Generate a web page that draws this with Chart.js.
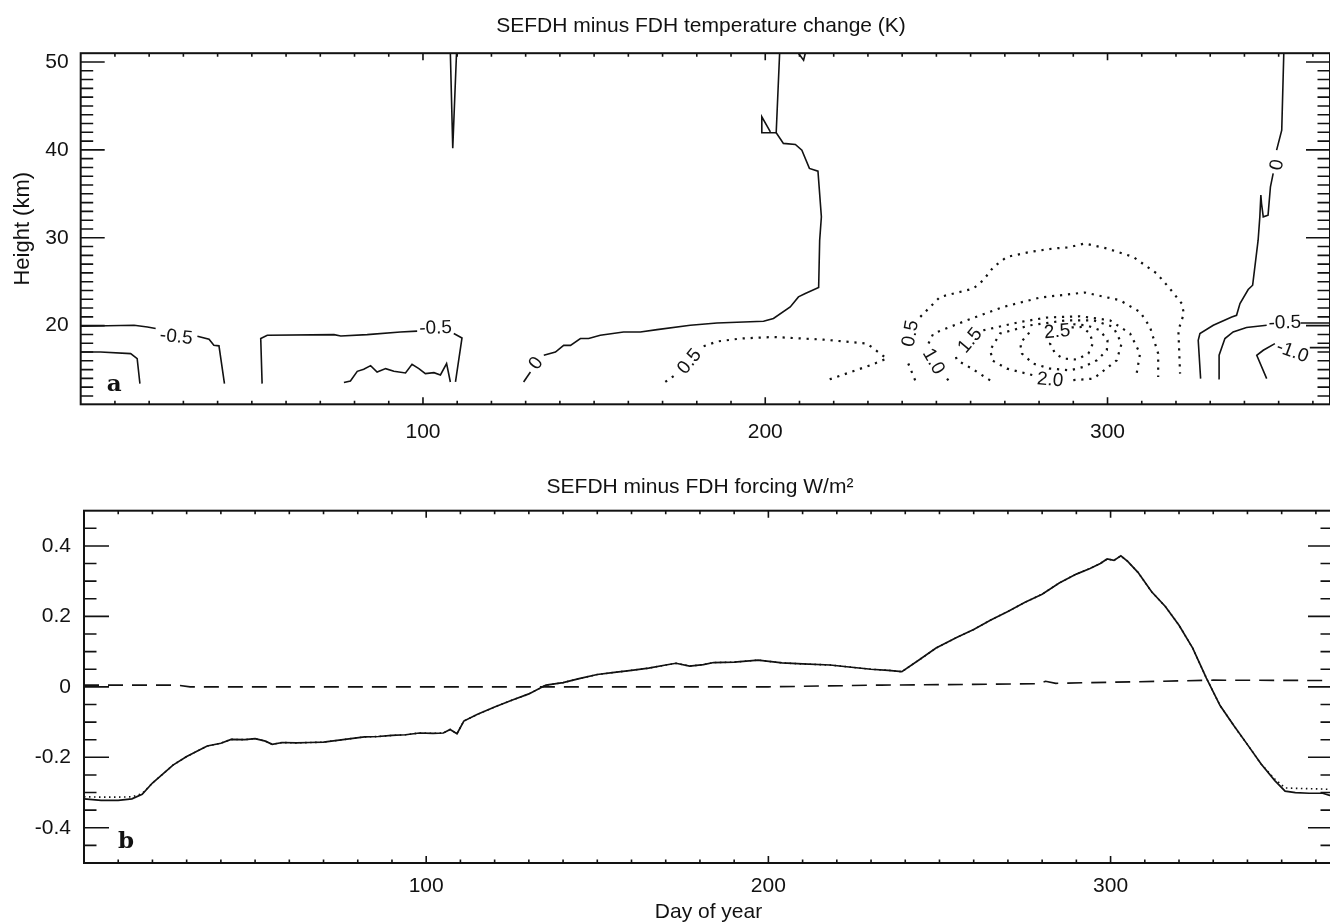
<!DOCTYPE html>
<html>
<head>
<meta charset="utf-8">
<title>SEFDH minus FDH</title>
<script src="https://cdn.jsdelivr.net/npm/chart.js@4.4.0/dist/chart.umd.min.js"></script>
<style>
  html, body { margin: 0; padding: 0; background: #fff; overflow: hidden; }
  #wrap { position: relative; width: 1330px; height: 923px; overflow: hidden; }
  canvas { position: absolute; left: 0; }
  #temperatuur { top: 0; }
  #forcering { top: 460px; }
</style>
</head>
<body>
<div id="wrap">
  <canvas id="temperatuur" width="1330" height="460"></canvas>
  <canvas id="forcering" width="1333" height="463"></canvas>
</div>
<script>
var ink = '#121212';

// tick labels
var dayTicks = [100, 200, 300];
var heightTicks = [20, 30, 40, 50];
var forcingTicks = [-0.4, -0.2, 0, 0.2, 0.4];

// panel a: contour lines as [day, height km], split where a label sits
// solid = zero / negative levels
var minHalfLeftA = [[0, 19.93], [15.6, 20.04], [19.5, 19.85], [21.9, 19.67]];
var minHalfLeftB = [[34.1, 18.79], [37.5, 18.45], [38.9, 17.76], [40.4, 17.7], [42.0, 13.4]];
var minOneLeft = [[0, 17.0], [5.8, 17.0], [14.6, 16.82], [16.5, 16.25], [17.3, 13.4]];
var minHalfMidA = [[53.0, 13.4], [52.6, 18.53], [54.5, 18.9], [74, 18.98], [76, 18.83], [83.7, 18.98], [93.4, 19.28], [98.3, 19.38]];
var minHalfMidB = [[109.0, 19.1], [111.4, 18.6], [109.5, 13.59]];
var squiggle = [[76.9, 13.52], [78.8, 13.7], [80.8, 14.8], [82.7, 15.03], [84.7, 15.45], [86.6, 14.73], [89.1, 15.11], [91.5, 14.8], [94.9, 14.61], [96.8, 15.6], [98.8, 15.11], [100.7, 14.54], [103.2, 14.65], [105.1, 14.39], [106.9, 15.68], [108.0, 13.59]];
var spike = [[108.0, 51], [108.7, 40.2], [109.8, 51]];
var zeroMidA = [[129.4, 13.59], [131.4, 14.73]];
var zeroMidB = [[135.3, 16.63], [138.7, 17.0], [141.1, 17.76], [143.1, 17.76], [146, 18.53], [148.4, 18.53], [151.8, 18.9], [158.6, 19.28], [163.5, 19.28], [168.4, 19.55], [178.1, 20.04], [185.9, 20.3], [199.5, 20.5], [202.4, 20.81], [207.3, 22.13], [209.7, 23.27], [211.7, 23.65], [215.6, 24.33], [215.9, 29.7], [216.4, 32.38], [215.4, 37.58], [212.9, 37.89], [210.7, 39.97], [208.8, 40.62], [205.3, 40.74], [203.2, 41.95], [204.2, 51]];
var zeroLoop = [[203.2, 41.95], [199.0, 41.95], [199.0, 43.77], [201.5, 42.05]];
var zeroTop = [[209.7, 51], [211.2, 50.2], [211.7, 51]];
var zeroRightA = [[351.5, 51], [350.9, 42.25], [349.4, 39.97]];
var zeroRightB = [[348.4, 37.32], [347.6, 35.8], [346.9, 32.57], [345.5, 32.38], [345.0, 33.9], [344.8, 34.85], [344.5, 32.38], [344.0, 29.72], [342.4, 24.6], [341.1, 24.11], [338.7, 22.51], [337.7, 21.18], [336.3, 20.99], [330.9, 20.04], [327.0, 19.1], [326.5, 18.33], [327.2, 13.97]];
var minHalfRightA = [[332.8, 13.97], [332.6, 16.63], [334.3, 18.53], [336.7, 19.28], [340.6, 19.78], [346.5, 20.04]];
var minHalfRightB = [[356.4, 20.3], [365, 20.3]];
var minOneRightA = [[346.5, 13.97], [343.6, 16.63], [345.5, 17.2], [348.9, 17.96]];
var minOneRightB = [[359.1, 17.5], [365, 17.5]];

// dotted = positive levels
var halfLobeA = [[170.8, 13.59], [174.2, 14.54]];
var halfLobeB = [[182, 17.65], [186, 18.2], [192.7, 18.53], [202.4, 18.71], [217, 18.41], [229.7, 17.96], [233.6, 16.82], [235.5, 16.25], [230.7, 15.49], [218, 13.78]];
var halfBigA = [[243.8, 13.78], [241.4, 16.06]];
var halfBigB = [[245.3, 21.0], [251.1, 23.27], [260.8, 24.22], [263.7, 25.17], [266.7, 26.68], [270.6, 27.82], [277.4, 28.39], [284.2, 28.78], [288.5, 28.9], [293.4, 29.35], [299.8, 28.78], [307.5, 27.82], [314.4, 25.93], [318.2, 24.22], [321.7, 22.51], [322.3, 21.37], [320.7, 19.47], [321.2, 14.54]];
var oneA = [[253.5, 13.78], [252.5, 14.3]];
var oneB = [[247.7, 17.96], [249.1, 19.1], [258.9, 20.61], [269.6, 22.13], [280.3, 23.2], [293.4, 23.77], [303.6, 22.89], [309.5, 21.56], [312.4, 19.85], [314.8, 16.82], [314.8, 14.16]];
var oneHalfA = [[265.7, 13.78], [260, 15.2], [256, 16.06], [255.5, 16.7]];
var oneHalfB = [[263.7, 19.47], [274.5, 20.42], [282.2, 20.92], [292, 21.07], [300.7, 20.61], [306.6, 19.1], [309.5, 16.82], [308.5, 14.54]];
var two = [[290.0, 13.8], [295.9, 13.97], [302.7, 16.06], [304.1, 17.96], [301.7, 19.85], [295.9, 20.61], [288.1, 20.61], [277.4, 20.04], [268.6, 19.1], [265.7, 17.2], [266.5, 16.0], [270.6, 15.11], [278.3, 14.35]];
var twoHalf = [[290.0, 20.16], [293.9, 20.04], [297.8, 19.47], [300.0, 18.33], [299.8, 17.2], [296.9, 16.06], [292.9, 15.3], [289.1, 14.92], [283.2, 15.11], [278.3, 15.68], [275.0, 16.82], [274.5, 17.96], [276.5, 19.0], [278.5, 19.5]];
var three = [[289.5, 19.8], [292.5, 19.85], [294.9, 19.1], [295.7, 17.96], [294.4, 16.82], [291.0, 16.14], [287.1, 16.25], [284.7, 16.82], [283.2, 17.96], [283.8, 18.6]];

// contour labels: day, height, text, angle
var contourLabels = [
  [27.9, 18.7, '-0.5', 6],
  [103.7, 19.7, '-0.5', -2],
  [133.1, 15.7, '0', -55],
  [177.9, 15.9, '0.5', -50],
  [242.5, 19.1, '0.5', -80],
  [249.1, 15.9, '1.0', 60],
  [259.9, 18.3, '1.5', -50],
  [285.3, 19.3, '2.5', -5],
  [283.2, 13.8, '2.0', 5],
  [349.6, 38.3, '0', -80],
  [351.8, 20.3, '-0.5', -2],
  [354.0, 17.0, '-1.0', 20]
];

var solidLines = [minHalfLeftA, minHalfLeftB, minOneLeft, minHalfMidA, minHalfMidB, squiggle, spike,
  zeroMidA, zeroMidB, zeroLoop, zeroTop, zeroRightA, zeroRightB, minHalfRightA, minHalfRightB, minOneRightA, minOneRightB];
var dottedLines = [halfLobeA, halfLobeB, halfBigA, halfBigB, oneA, oneB, oneHalfA, oneHalfB, two, twoHalf, three];

// panel b: forcing (W/m2) against day of year
var forcingDays = [0, 5, 10, 14, 17, 20, 23, 26, 30, 33, 36, 40, 43, 47, 50, 53, 55, 58, 62, 66, 70, 74, 78, 82, 86, 90, 94, 98, 102, 105, 107, 109, 111, 115, 120, 125, 130, 135, 140, 145, 150, 155, 160, 165, 170, 173, 177, 181, 184, 190, 197, 204, 210, 218, 225, 230, 235, 239, 244, 249, 255, 260, 265, 270, 275, 280, 285, 290, 294, 297, 299, 301, 303, 305, 308, 312, 316, 320, 324, 328, 332, 336, 340, 344, 348, 351, 354, 358, 362, 364, 365];
var forcingSolid = [-0.318, -0.322, -0.322, -0.318, -0.305, -0.273, -0.248, -0.222, -0.198, -0.183, -0.168, -0.160, -0.149, -0.150, -0.147, -0.154, -0.163, -0.158, -0.159, -0.158, -0.157, -0.152, -0.147, -0.142, -0.141, -0.138, -0.136, -0.131, -0.132, -0.131, -0.121, -0.133, -0.097, -0.078, -0.057, -0.038, -0.020, 0.005, 0.012, 0.024, 0.035, 0.041, 0.047, 0.053, 0.062, 0.067, 0.059, 0.063, 0.069, 0.070, 0.076, 0.068, 0.065, 0.062, 0.055, 0.050, 0.047, 0.043, 0.076, 0.110, 0.140, 0.163, 0.190, 0.214, 0.240, 0.263, 0.295, 0.320, 0.336, 0.350, 0.363, 0.359, 0.372, 0.356, 0.325, 0.270, 0.228, 0.175, 0.110, 0.025, -0.053, -0.110, -0.164, -0.219, -0.266, -0.296, -0.300, -0.302, -0.302, -0.308, -0.305];
var forcingDotted = [-0.312, -0.313, -0.313, -0.312, -0.303, -0.273, -0.248, -0.222, -0.198, -0.183, -0.168, -0.160, -0.149, -0.150, -0.147, -0.154, -0.163, -0.158, -0.159, -0.158, -0.157, -0.152, -0.147, -0.142, -0.141, -0.138, -0.136, -0.131, -0.132, -0.131, -0.121, -0.133, -0.097, -0.078, -0.057, -0.038, -0.020, 0.005, 0.012, 0.024, 0.035, 0.041, 0.047, 0.053, 0.062, 0.067, 0.059, 0.063, 0.069, 0.070, 0.076, 0.068, 0.065, 0.062, 0.055, 0.050, 0.047, 0.043, 0.076, 0.110, 0.140, 0.163, 0.190, 0.214, 0.240, 0.263, 0.295, 0.320, 0.336, 0.350, 0.363, 0.359, 0.372, 0.356, 0.325, 0.270, 0.228, 0.175, 0.110, 0.025, -0.053, -0.110, -0.164, -0.219, -0.262, -0.287, -0.288, -0.289, -0.290, -0.291, -0.292];
var dashDays = [0, 27, 31, 60, 100, 150, 200, 233, 260, 279, 281, 284, 300, 330, 365];
var dashValues = [0.005, 0.005, 0.0, 0.0, 0.0, 0.0, 0.0, 0.005, 0.007, 0.009, 0.016, 0.010, 0.013, 0.019, 0.018];

Chart.defaults.font.family = "'Liberation Sans', Arial, sans-serif";
Chart.defaults.color = ink;

function toPoints(pairs) {
  return pairs.map(function (p) { return { x: p[0], y: p[1] }; });
}
function zip(xs, ys) {
  return xs.map(function (x, i) { return { x: x, y: ys[i] }; });
}
function lineSet(points, width, dash) {
  return {
    data: points, showLine: true, fill: false, tension: 0,
    borderColor: ink, borderWidth: width, borderDash: dash,
    pointRadius: 0, pointHoverRadius: 0
  };
}

// ticks pointing inward on all four sides, plus the closed frame
function frameTicks(yStep, yFrom, yTo, yEvery, yLong, yShort) {
  return {
    id: 'frameTicks',
    afterDraw: function (chart) {
      var c = chart.ctx, a = chart.chartArea, sx = chart.scales.x, sy = chart.scales.y;
      c.save();
      c.strokeStyle = ink;
      c.lineWidth = 2;
      c.strokeRect(a.left, a.top, a.right - a.left, a.bottom - a.top);
      c.lineWidth = 1.6;
      c.beginPath();
      for (var d = 10; d < sx.max; d += 10) {
        var px = sx.getPixelForValue(d);
        var len = d % 100 === 0 ? 7 : 3.5;
        c.moveTo(px, a.bottom); c.lineTo(px, a.bottom - len);
        c.moveTo(px, a.top); c.lineTo(px, a.top + len);
      }
      for (var k = yFrom; k <= yTo; k++) {
        var py = sy.getPixelForValue(k * yStep);
        var l = k % yEvery === 0 ? yLong : yShort;
        c.moveTo(a.left, py); c.lineTo(a.left + l, py);
        c.moveTo(a.right, py); c.lineTo(a.right - l, py);
      }
      c.stroke();
      c.restore();
    }
  };
}

// title, panel letter and contour labels
function annotate(title, titleX, titleY, panel, dx, dy, labels) {
  return {
    id: 'annotate',
    afterDatasetsDraw: function (chart) {
      var c = chart.ctx, a = chart.chartArea, sx = chart.scales.x, sy = chart.scales.y;
      c.save();
      c.fillStyle = ink;
      c.textAlign = 'center';
      c.textBaseline = 'alphabetic';
      c.font = "21px 'Liberation Sans', Arial, sans-serif";
      c.fillText(title, titleX, titleY);
      c.textAlign = 'left';
      c.font = "bold 23px 'DejaVu Serif', serif";
      c.fillText(panel, a.left + dx, a.bottom - dy);
      c.textAlign = 'center';
      c.textBaseline = 'middle';
      c.font = "19px 'Liberation Sans', Arial, sans-serif";
      labels.forEach(function (l) {
        c.save();
        c.translate(sx.getPixelForValue(l[0]), sy.getPixelForValue(l[1]));
        c.rotate(l[3] * Math.PI / 180);
        c.fillText(l[2], 0, 0);
        c.restore();
      });
      c.restore();
    }
  };
}

function tickList(list) {
  return function (scale) { scale.ticks = list.map(function (v) { return { value: v }; }); };
}

// panel a
var datasetsA = solidLines.map(function (s) { return lineSet(toPoints(s), 1.6, []); })
  .concat(dottedLines.map(function (s) { return lineSet(toPoints(s), 2.2, [2.2, 5.8]); }));

var ctx = document.getElementById('temperatuur').getContext('2d');
var chart = new Chart(ctx, {
  type: 'scatter',
  data: { datasets: datasetsA },
  options: {
    responsive: false, animation: false, devicePixelRatio: 1, events: [],
    layout: { padding: { top: 53.2, left: 0, right: 0, bottom: 0 } },
    plugins: { legend: { display: false }, tooltip: { enabled: false } },
    scales: {
      x: {
        type: 'linear', min: 0, max: 365,
        afterFit: function (s) { s.height = 55.7; },
        afterBuildTicks: tickList(dayTicks),
        grid: { display: false, drawTicks: false }, border: { display: false },
        ticks: { padding: 15, autoSkip: false, maxRotation: 0, font: { size: 21 }, color: ink }
      },
      y: {
        type: 'linear', min: 11.05, max: 51,
        afterFit: function (s) { s.width = 80.7; },
        afterBuildTicks: tickList(heightTicks),
        grid: { display: false, drawTicks: false }, border: { display: false },
        ticks: { padding: 12, autoSkip: false, font: { size: 21 }, color: ink },
        title: { display: true, text: 'Height (km)', font: { size: 22 }, color: ink, padding: { top: 10, bottom: 0 } }
      }
    }
  },
  plugins: [frameTicks(1, 12, 50, 10, 24, 12.5),
    annotate('SEFDH minus FDH temperature change (K)', 701, 32, 'a', 26, 13.6, contourLabels)]
});

// panel b
var ctx = document.getElementById('forcering').getContext('2d');
var chart = new Chart(ctx, {
  type: 'scatter',
  data: {
    datasets: [
      lineSet(zip(dashDays, dashValues), 1.6, [15, 9]),
      lineSet(zip(forcingDays, forcingDotted), 1.6, [1.5, 3.5]),
      lineSet(zip(forcingDays, forcingSolid), 1.7, [])
    ]
  },
  options: {
    responsive: false, animation: false, devicePixelRatio: 1, events: [],
    layout: { padding: { top: 50.7, left: 0, right: 0, bottom: 0 } },
    plugins: { legend: { display: false }, tooltip: { enabled: false } },
    scales: {
      x: {
        type: 'linear', min: 0, max: 365,
        afterFit: function (s) { s.height = 60; },
        afterBuildTicks: tickList(dayTicks),
        grid: { display: false, drawTicks: false }, border: { display: false },
        ticks: { padding: 11, autoSkip: false, maxRotation: 0, font: { size: 21 }, color: ink },
        title: { display: true, text: 'Day of year', font: { size: 21 }, color: ink, padding: { top: 0, bottom: -2 } }
      },
      y: {
        type: 'linear', min: -0.5, max: 0.5,
        afterFit: function (s) { s.width = 84; },
        afterBuildTicks: tickList(forcingTicks),
        grid: { display: false, drawTicks: false }, border: { display: false },
        ticks: { padding: 13, autoSkip: false, font: { size: 21 }, color: ink,
          callback: function (v) { return String(v); } }
      }
    }
  },
  plugins: [frameTicks(0.05, -9, 9, 4, 25, 12.5),
    annotate('SEFDH minus FDH forcing W/m\u00b2', 700, 33.3, 'b', 34, 14.7, [])]
});
</script>
</body>
</html>
